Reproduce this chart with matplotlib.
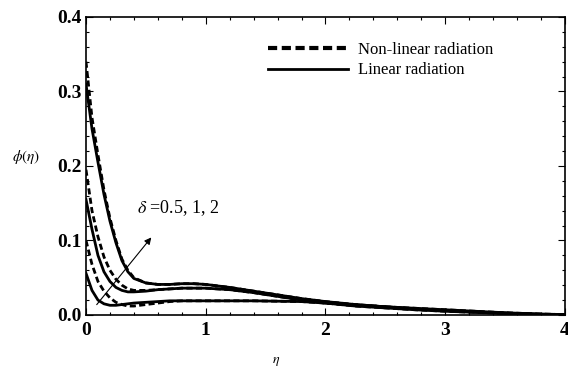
import matplotlib
matplotlib.use("Agg")
import matplotlib.pyplot as plt
from matplotlib.ticker import MultipleLocator
from matplotlib.lines import Line2D

eta = [0, 0.05, 0.1, 0.15, 0.2, 0.25, 0.3, 0.35, 0.4, 0.5, 0.6, 0.7, 0.8, 0.9,
       1.0, 1.2, 1.4, 1.6, 1.8, 2.0, 2.25, 2.5, 2.75, 3.0, 3.25, 3.5, 3.75, 4.0]

# Non-linear radiation (dashed), delta = 0.5, 1, 2
nl_d05 = [0.100, 0.068, 0.045, 0.032, 0.023, 0.017, 0.014, 0.012, 0.012, 0.014, 0.016, 0.018, 0.019, 0.019,
          0.019, 0.019, 0.019, 0.0185, 0.018, 0.016, 0.0135, 0.011, 0.009, 0.007, 0.005, 0.003, 0.0015, 0.0005]
nl_d1 = [0.195, 0.140, 0.105, 0.078, 0.060, 0.048, 0.040, 0.035, 0.033, 0.033, 0.034, 0.035, 0.036, 0.036,
         0.036, 0.034, 0.030, 0.025, 0.020, 0.016, 0.012, 0.0095, 0.007, 0.005, 0.0035, 0.002, 0.001, 0.0003]
nl_d2 = [0.340, 0.265, 0.215, 0.168, 0.130, 0.100, 0.075, 0.060, 0.050, 0.043, 0.041, 0.041, 0.042, 0.042,
         0.041, 0.037, 0.032, 0.027, 0.022, 0.018, 0.014, 0.011, 0.008, 0.006, 0.004, 0.0025, 0.001, 0.0003]

# Linear radiation (solid), delta = 0.5, 1, 2
l_d05 = [0.056, 0.033, 0.020, 0.015, 0.013, 0.013, 0.014, 0.015, 0.016, 0.017, 0.018, 0.019, 0.019, 0.019,
         0.019, 0.019, 0.019, 0.0185, 0.018, 0.016, 0.0135, 0.011, 0.009, 0.007, 0.005, 0.003, 0.0015, 0.0005]
l_d1 = [0.155, 0.115, 0.080, 0.058, 0.045, 0.037, 0.033, 0.031, 0.031, 0.032, 0.034, 0.035, 0.036, 0.036,
        0.036, 0.034, 0.030, 0.025, 0.020, 0.016, 0.012, 0.0095, 0.007, 0.005, 0.0035, 0.002, 0.001, 0.0003]
l_d2 = [0.310, 0.250, 0.205, 0.162, 0.126, 0.097, 0.073, 0.058, 0.049, 0.043, 0.041, 0.041, 0.042, 0.042,
        0.041, 0.037, 0.032, 0.027, 0.022, 0.018, 0.014, 0.011, 0.008, 0.006, 0.004, 0.0025, 0.001, 0.0003]

legend_labels = ["Non-linear radiation", "Linear radiation"]
annot_text = r"$\delta$ =0.5, 1, 2"

plt.rcParams['font.family'] = ['Liberation Serif', 'DejaVu Serif']
plt.rcParams['mathtext.fontset'] = 'stix'

fig = plt.figure(figsize=(5.68, 3.77), dpi=100)
ax = fig.add_axes([0.1514, 0.1645, 0.8433, 0.7905])

dash = (0, (2.2, 1.2))
lw = 2.0
for y in (nl_d05, nl_d1, nl_d2):
    ax.plot(eta, y, color='black', lw=lw, linestyle=dash)
for y in (l_d05, l_d1, l_d2):
    ax.plot(eta, y, color='black', lw=lw, linestyle='-')

ax.set_xlim(0, 4)
ax.set_ylim(0, 0.4)
ax.xaxis.set_major_locator(MultipleLocator(1))
ax.xaxis.set_minor_locator(MultipleLocator(0.2))
ax.yaxis.set_major_locator(MultipleLocator(0.1))
ax.yaxis.set_minor_locator(MultipleLocator(0.02))
ax.xaxis.set_major_formatter(plt.FuncFormatter(lambda v, p: f"{v:.0f}"))
ax.yaxis.set_major_formatter(plt.FuncFormatter(lambda v, p: f"{v:.1f}"))
ax.tick_params(which='both', direction='in', top=True, right=True, width=0.8)
ax.tick_params(which='major', length=5, labelsize=14)
ax.tick_params(which='minor', length=2.5)
for lab in ax.get_xticklabels() + ax.get_yticklabels():
    lab.set_fontweight('bold')
ax.tick_params(axis='x', pad=5)
ax.tick_params(axis='y', pad=3)
for s in ax.spines.values():
    s.set_linewidth(1.2)

ax.set_xlabel(r"$\eta$", fontsize=10)
ax.xaxis.set_label_coords(0.397, -0.134)
ax.set_ylabel(r"$\phi(\eta)$", fontsize=11, rotation=0)
ax.yaxis.set_label_coords(-0.125, 0.5)

handles = [Line2D([], [], color='black', lw=3, linestyle=(0, (2.2, 1.1))),
           Line2D([], [], color='black', lw=2, linestyle='-')]
ax.legend(handles, legend_labels, loc='upper left', bbox_to_anchor=(0.38, 0.915),
          frameon=False, fontsize=12, handlelength=4.8, handletextpad=0.6,
          labelspacing=0.25, borderaxespad=0, borderpad=0)

ax.annotate("", xy=(0.56, 0.107), xytext=(0.075, 0.011),
            arrowprops=dict(arrowstyle='-|>', color='black', lw=0.8, mutation_scale=10))
ax.text(0.43, 0.144, annot_text, fontsize=13, va='center', ha='left')

fig.savefig("out.png", dpi=100)
